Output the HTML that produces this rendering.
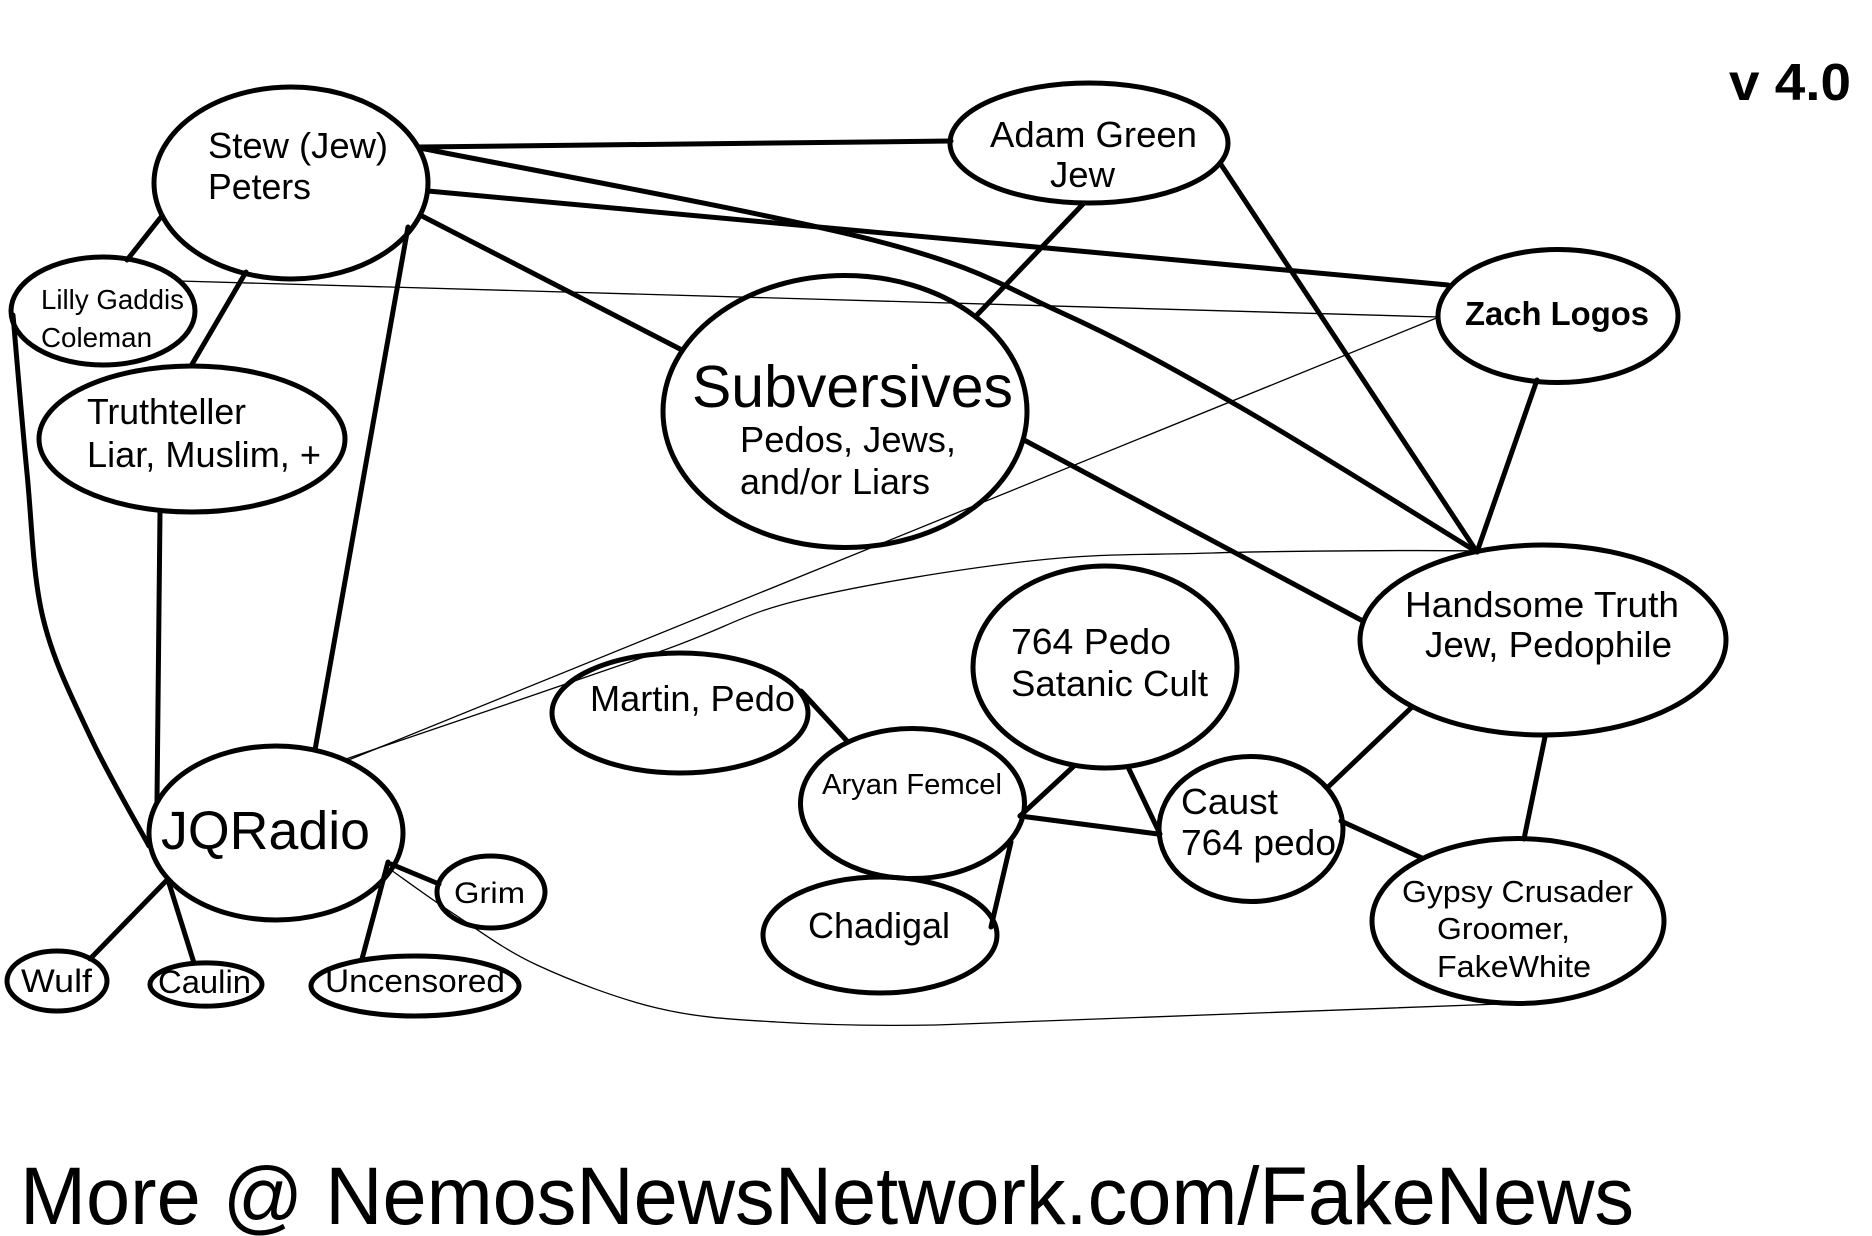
<!DOCTYPE html>
<html>
<head>
<meta charset="utf-8">
<style>
  html,body{margin:0;padding:0;background:#fff;}
  svg{display:block;}
  text{font-family:"Liberation Sans",Arial,sans-serif;fill:#000;}
</style>
</head>
<body>
<svg width="1872" height="1236" viewBox="0 0 1872 1236" xmlns="http://www.w3.org/2000/svg">
<rect width="1872" height="1236" fill="#fff"/>

<!-- thin connectors -->
<g fill="none" stroke="#000" stroke-width="1.3">
  <line x1="179" y1="281" x2="1439" y2="317"/>
  <line x1="1439" y1="317" x2="346" y2="761"/>
  <path d="M346,759 C397.7,741.3 580.3,679.5 656,653 C731.7,626.5 737.7,615.3 800,600 C862.3,584.7 961.3,568.8 1030,561 C1098.7,553.2 1138.2,555.2 1212,553 C1285.8,550.8 1429.5,550 1476,551"/>
  <path d="M391,870 C401.5,877.3 429.7,898.2 454,914 C478.3,929.8 503.2,949.3 537,965 C570.8,980.7 617.2,998.5 657,1008 C696.8,1017.5 729.5,1019.2 776,1022 C822.5,1024.8 880,1026 936,1025 L1500,1004"/>
</g>

<!-- thick connectors -->
<g fill="none" stroke="#000" stroke-width="5" stroke-linecap="round">
  <line x1="420" y1="147" x2="951" y2="141"/>
  <path d="M420,148 C495.5,163.3 766.3,212.7 873,240 C979.7,267.3 998.8,284.2 1060,312 C1121.2,339.8 1170.5,367 1240,407 C1309.5,447 1437.5,527.8 1477,552"/>
  <line x1="428" y1="191" x2="1448" y2="285"/>
  <line x1="422" y1="216" x2="680" y2="349"/>
  <line x1="408" y1="227" x2="315" y2="750"/>
  <line x1="161" y1="217" x2="127" y2="260"/>
  <line x1="246" y1="272" x2="191" y2="366"/>
  <line x1="160" y1="512" x2="157" y2="801"/>
  <path d="M13,315 C15.3,341.3 22,422.5 27,473 C32,523.5 32.5,574.2 43,618 C53.5,661.8 72.3,698 90,736 C107.7,774 139.2,827.7 149,846"/>
  <line x1="1084" y1="203" x2="976" y2="316"/>
  <line x1="1220" y1="163" x2="1477" y2="552"/>
  <line x1="1537" y1="380" x2="1477" y2="552"/>
  <line x1="1024" y1="440" x2="1361" y2="620"/>
  <line x1="1411" y1="708" x2="1327" y2="788"/>
  <line x1="1545" y1="737" x2="1524" y2="839"/>
  <line x1="1341" y1="821" x2="1422" y2="858"/>
  <line x1="1128" y1="767" x2="1160" y2="834"/>
  <line x1="1074" y1="766" x2="1020" y2="816"/>
  <line x1="1020" y1="816" x2="1158" y2="834"/>
  <line x1="1011" y1="842" x2="991" y2="927"/>
  <line x1="801" y1="691" x2="847" y2="741"/>
  <line x1="167" y1="880" x2="90" y2="959"/>
  <line x1="168" y1="880" x2="194" y2="963"/>
  <line x1="388" y1="862" x2="362" y2="959"/>
  <line x1="391" y1="864" x2="439" y2="884"/>
</g>

<!-- nodes -->
<g fill="none" stroke="#000" stroke-width="5">
  <ellipse cx="291" cy="183" rx="137" ry="96"/>
  <ellipse cx="103" cy="311" rx="92" ry="54"/>
  <ellipse cx="192" cy="439" rx="153" ry="73"/>
  <ellipse cx="1089" cy="143" rx="139" ry="60"/>
  <ellipse cx="1558" cy="316" rx="120" ry="66.5"/>
  <ellipse cx="845" cy="411.5" rx="182" ry="136"/>
  <ellipse cx="1543" cy="640" rx="183" ry="95"/>
  <ellipse cx="680" cy="713" rx="128" ry="60"/>
  <ellipse cx="1105" cy="667" rx="132" ry="101"/>
  <ellipse cx="912.5" cy="803.5" rx="112" ry="75"/>
  <ellipse cx="880" cy="935" rx="117" ry="58"/>
  <ellipse cx="1251" cy="829" rx="92" ry="72.5"/>
  <ellipse cx="1518" cy="921" rx="146" ry="82.5"/>
  <ellipse cx="276" cy="833" rx="127" ry="87"/>
  <ellipse cx="491" cy="892" rx="54" ry="36"/>
  <ellipse cx="57" cy="981" rx="50" ry="30"/>
  <ellipse cx="206" cy="984.5" rx="56" ry="21.6"/>
  <ellipse cx="415" cy="986" rx="104" ry="30"/>
</g>

<!-- labels -->
<g>
  <text x="208" y="158" font-size="36" textLength="180" lengthAdjust="spacingAndGlyphs">Stew (Jew)</text>
  <text x="208" y="199" font-size="36" textLength="103" lengthAdjust="spacingAndGlyphs">Peters</text>

  <text x="41" y="309" font-size="28" textLength="143" lengthAdjust="spacingAndGlyphs">Lilly Gaddis</text>
  <text x="41" y="347" font-size="28" textLength="111" lengthAdjust="spacingAndGlyphs">Coleman</text>

  <text x="87" y="424" font-size="36" textLength="159" lengthAdjust="spacingAndGlyphs">Truthteller</text>
  <text x="87" y="467" font-size="36" textLength="234" lengthAdjust="spacingAndGlyphs">Liar, Muslim, +</text>

  <text x="990" y="147" font-size="36" textLength="207" lengthAdjust="spacingAndGlyphs">Adam Green</text>
  <text x="1050" y="187" font-size="36" textLength="65" lengthAdjust="spacingAndGlyphs">Jew</text>

  <text x="1465" y="325" font-size="33" font-weight="bold" textLength="184" lengthAdjust="spacingAndGlyphs">Zach Logos</text>

  <text x="1729" y="100" font-size="52" font-weight="bold" textLength="122" lengthAdjust="spacingAndGlyphs">v 4.0</text>

  <text x="692" y="407" font-size="59" textLength="321" lengthAdjust="spacingAndGlyphs">Subversives</text>
  <text x="740" y="452" font-size="36" textLength="216" lengthAdjust="spacingAndGlyphs">Pedos, Jews,</text>
  <text x="740" y="494" font-size="36" textLength="190" lengthAdjust="spacingAndGlyphs">and/or Liars</text>

  <text x="1405" y="617" font-size="36" textLength="274" lengthAdjust="spacingAndGlyphs">Handsome Truth</text>
  <text x="1425" y="657" font-size="36" textLength="247" lengthAdjust="spacingAndGlyphs">Jew, Pedophile</text>

  <text x="590" y="711" font-size="36" textLength="205" lengthAdjust="spacingAndGlyphs">Martin, Pedo</text>

  <text x="1011" y="654" font-size="36" textLength="160" lengthAdjust="spacingAndGlyphs">764 Pedo</text>
  <text x="1011" y="696" font-size="36" textLength="197" lengthAdjust="spacingAndGlyphs">Satanic Cult</text>

  <text x="822" y="794" font-size="29" textLength="180" lengthAdjust="spacingAndGlyphs">Aryan Femcel</text>

  <text x="808" y="938" font-size="36" textLength="142" lengthAdjust="spacingAndGlyphs">Chadigal</text>

  <text x="1181" y="814" font-size="36" textLength="97" lengthAdjust="spacingAndGlyphs">Caust</text>
  <text x="1181" y="855" font-size="36" textLength="155" lengthAdjust="spacingAndGlyphs">764 pedo</text>

  <text x="1402" y="902" font-size="31" textLength="231" lengthAdjust="spacingAndGlyphs">Gypsy Crusader</text>
  <text x="1437" y="939" font-size="31" textLength="133" lengthAdjust="spacingAndGlyphs">Groomer,</text>
  <text x="1437" y="977" font-size="31" textLength="154" lengthAdjust="spacingAndGlyphs">FakeWhite</text>

  <text x="161" y="849" font-size="54" textLength="209" lengthAdjust="spacingAndGlyphs">JQRadio</text>
  <text x="454" y="903" font-size="30" textLength="71" lengthAdjust="spacingAndGlyphs">Grim</text>
  <text x="21" y="992" font-size="32" textLength="71" lengthAdjust="spacingAndGlyphs">Wulf</text>
  <text x="158" y="993" font-size="32" textLength="93" lengthAdjust="spacingAndGlyphs">Caulin</text>
  <text x="325" y="992" font-size="32" textLength="180" lengthAdjust="spacingAndGlyphs">Uncensored</text>

  <text x="20" y="1224" font-size="82" textLength="1614" lengthAdjust="spacingAndGlyphs">More @ NemosNewsNetwork.com/FakeNews</text>
</g>
</svg>
</body>
</html>
